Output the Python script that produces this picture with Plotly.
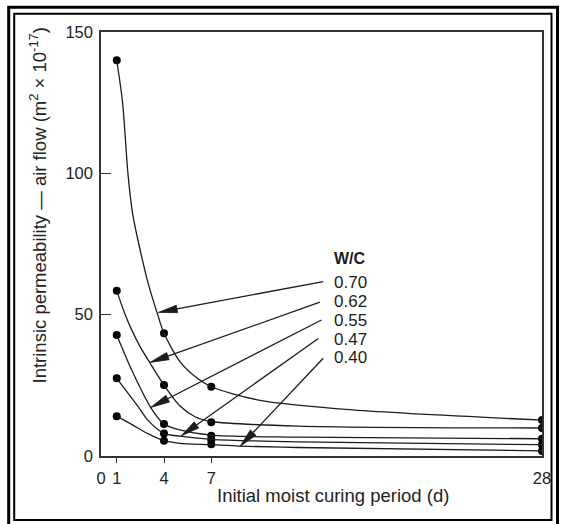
import math
import plotly.graph_objects as go

# ---------------- data ----------------
days = [1, 4, 7, 28]
wc_labels = ["0.70", "0.62", "0.55", "0.47", "0.40"]

perm_070 = [140.0, 43.4, 24.5, 12.7]
perm_062 = [58.5, 25.1, 11.9, 9.9]
perm_055 = [42.8, 11.3, 7.2, 6.1]
perm_047 = [27.5, 8.0, 5.7, 4.0]
perm_040 = [14.1, 5.4, 4.2, 1.8]

# hand-drawn curve paths
curve_070_x = [1, 1.37, 1.71, 2.0, 2.4, 3.0, 3.6, 4, 5, 6, 7, 10, 16, 28]
curve_070_y = [140, 125, 100, 86, 75, 61, 50, 43.4, 33.5, 28, 24.5, 19.8, 16.3, 12.7]
curve_062_x = [1, 1.5, 2, 2.5, 3.1, 4, 5, 6, 7, 12.5, 28]
curve_062_y = [58.5, 50.5, 44, 38.5, 33, 25.1, 17.8, 13.8, 12.2, 10.6, 9.9]
curve_055_x = [1, 1.95, 3.15, 4, 5, 7, 12.5, 28]
curve_055_y = [42.8, 30.4, 17.2, 11.3, 9.2, 7.4, 6.7, 6.1]
curve_047_x = [1, 2.37, 3.0, 4, 5, 7, 12.5, 28]
curve_047_y = [27.5, 17.4, 12.5, 8.0, 7.0, 5.9, 5.0, 4.0]
curve_040_x = [1, 2, 3, 4, 5, 7, 8.8, 12.5, 28]
curve_040_y = [14.1, 11.0, 7.8, 5.4, 4.5, 4.0, 3.5, 3.0, 1.8]

x_tickvals = [0, 1, 4, 7, 28]
x_ticktext = ["0", "1", "4", "7", "28"]
y_tickvals = [0, 50, 100, 150]
y_ticktext = ["0", "50", "100", "150"]

# arrows: tail (near label) -> head (on curve), data units
arrow_tail_x = [14.11, 13.90, 14.00, 13.80, 14.11]
arrow_tail_y = [61.7, 54.4, 48.1, 41.6, 34.6]
arrow_head_x = [3.64, 3.11, 3.16, 5.08, 8.83]
arrow_head_y = [50.8, 33.1, 17.2, 7.1, 3.4]

label_y = [61.3, 54.6, 47.8, 41.3, 34.8]
label_x = 14.72
title_wc_y = 70.0

# ---------------- layout geometry ----------------
W, H = 565, 524
ML, MR, MT, MB = 101, 23, 32, 68
PW, PH = W - ML - MR, H - MT - MB
XR = [0, 28]
YR = [0, 150]
sx = PW / (XR[1] - XR[0])
sy = PH / (YR[1] - YR[0])

FONT = "Liberation Sans, Arial, Helvetica, sans-serif"
INK = "#1c1c1c"


def px_to_paper(px, py):
    return (px - ML) / PW, (H - MB - py) / PH


fig = go.Figure()

curves = [
    (curve_070_x, curve_070_y), (curve_062_x, curve_062_y),
    (curve_055_x, curve_055_y), (curve_047_x, curve_047_y),
    (curve_040_x, curve_040_y),
]
series = [perm_070, perm_062, perm_055, perm_047, perm_040]

for (cx, cy), lab in zip(curves, wc_labels):
    fig.add_trace(go.Scatter(
        x=cx, y=cy, mode="lines", name="W/C " + lab, xaxis="x2", yaxis="y",
        line=dict(color=INK, width=1.3, shape="spline", smoothing=0.8),
        hoverinfo="skip", showlegend=False,
    ))
for vals, lab in zip(series, wc_labels):
    fig.add_trace(go.Scatter(
        x=days, y=vals, mode="markers", name="W/C " + lab,
        marker=dict(color="black", size=8),
        showlegend=False,
    ))

shapes = []
# arrows with slender filled heads
HEAD_LEN, HEAD_HALF = 19.0, 3.8
for tx, ty, hx, hy in zip(arrow_tail_x, arrow_tail_y, arrow_head_x, arrow_head_y):
    dx = (hx - tx) * sx
    dy = (hy - ty) * sy
    L = math.hypot(dx, dy)
    ux, uy = dx / L, dy / L
    nx, ny = -uy, ux
    bx, by = -ux * HEAD_LEN, -uy * HEAD_LEN
    b_x = hx + bx / sx
    b_y = hy + by / sy
    p1 = (hx + (bx + nx * HEAD_HALF) / sx, hy + (by + ny * HEAD_HALF) / sy)
    p2 = (hx + (bx - nx * HEAD_HALF) / sx, hy + (by - ny * HEAD_HALF) / sy)
    shapes.append(dict(type="line", xref="x", yref="y", x0=tx, y0=ty, x1=b_x, y1=b_y,
                       line=dict(color=INK, width=1.3)))
    shapes.append(dict(type="path", xref="x", yref="y",
                       path=f"M{hx},{hy} L{p1[0]},{p1[1]} L{p2[0]},{p2[1]} Z",
                       fillcolor=INK, line=dict(color=INK, width=0.8)))

# double frame around the whole figure
def rect(l, t, r, b, w):
    x0, y0 = px_to_paper(l, b)
    x1, y1 = px_to_paper(r, t)
    return dict(type="rect", xref="paper", yref="paper", x0=x0, y0=y0, x1=x1, y1=y1,
                line=dict(color="black", width=w), fillcolor="rgba(0,0,0,0)", layer="above")

shapes.append(rect(8.7, 7.2, 557.5, 527, 3))
shapes.append(rect(14.2, 13.8, 551.5, 520, 2))

annotations = []
annotations.append(dict(x=label_x, y=title_wc_y, xref="x", yref="y", text="<b>W/C</b>",
                        showarrow=False, xanchor="left", yanchor="middle", borderpad=0,
                        font=dict(family=FONT, size=16, color=INK)))
for lab, ly in zip(wc_labels, label_y):
    annotations.append(dict(x=label_x, y=ly, xref="x", yref="y", text=lab,
                            showarrow=False, xanchor="left", yanchor="middle", borderpad=0,
                            font=dict(family=FONT, size=17, color=INK)))

yt_x, yt_y = px_to_paper(38.5, 206)
annotations.append(dict(x=yt_x, y=yt_y, xref="paper", yref="paper", textangle=-90,
                        text="Intrinsic permeability — air flow (m<sup>2</sup> × 10<sup>-17</sup>)",
                        showarrow=False, xanchor="center", yanchor="middle",
                        font=dict(family=FONT, size=18.5, color="#222")))
xt_x, xt_y = px_to_paper(332.5, 495)
annotations.append(dict(x=xt_x, y=xt_y, xref="paper", yref="paper",
                        text="Initial moist curing period (d)",
                        showarrow=False, xanchor="center", yanchor="middle",
                        font=dict(family=FONT, size=18.5, color="#222")))

fig.update_layout(
    width=W, height=H,
    margin=dict(l=ML, r=MR, t=MT, b=MB, pad=0),
    paper_bgcolor="white", plot_bgcolor="white",
    showlegend=False,
    shapes=shapes,
    annotations=annotations,
    xaxis=dict(range=XR, tickvals=x_tickvals, ticktext=x_ticktext,
               ticks="outside", ticklen=6, tickcolor="rgba(0,0,0,0)",
               showgrid=False, zeroline=False, showline=True, mirror=True,
               linecolor="#333", linewidth=1.5,
               tickfont=dict(family=FONT, size=16.5, color="#222")),
    xaxis2=dict(range=XR, overlaying="x", anchor="y", side="bottom",
                tickvals=[1, 4, 7], ticks="outside", ticklen=6, tickwidth=1.3,
                tickcolor="#333", showticklabels=False, showgrid=False,
                zeroline=False, showline=False),
    yaxis=dict(range=YR, tickvals=y_tickvals, ticktext=y_ticktext,
               ticks="inside", ticklen=10, tickwidth=1.3, tickcolor="#333",
               showgrid=False, zeroline=False, showline=True, mirror=True,
               linecolor="#333", linewidth=1.5, ticklabelstandoff=3,
               tickfont=dict(family=FONT, size=16.5, color="#222")),
)

fig.write_html(
    "out.html",
    config={"displayModeBar": False},
    post_script="document.body.style.margin='0';document.body.style.overflow='hidden';",
)
